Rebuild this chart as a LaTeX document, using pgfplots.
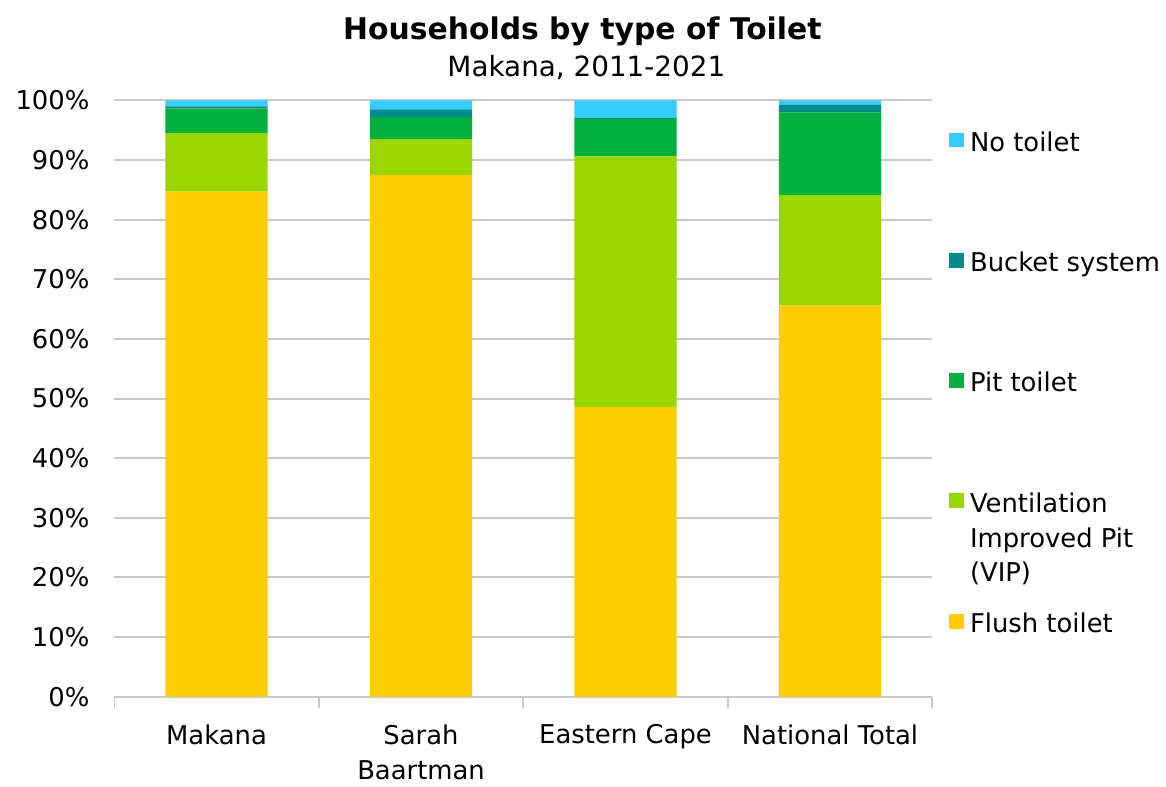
\documentclass[border=0pt]{standalone}
\usepackage{fontspec}
\setmainfont{DejaVu Sans}
\usepackage{pgfplots}
\pgfplotsset{compat=1.18}

\definecolor{flush}{RGB}{255,204,0}
\definecolor{vip}{RGB}{153,214,0}
\definecolor{pit}{RGB}{0,176,60}
\definecolor{bucket}{RGB}{0,140,140}
\definecolor{notoilet}{RGB}{51,204,255}
\definecolor{gridgray}{RGB}{200,200,200}

\pgfplotsset{sqlegend/.style={legend image code/.code={\fill[##1] (0pt,2pt) rectangle (7.8pt,9.5pt);}}}

\begin{document}
\begin{tikzpicture}[x=1pt,y=1pt]
\path (0,0) rectangle (583,391.5);
\node[font=\fontsize{15}{18}\selectfont\bfseries, anchor=base] at (293,371.5) {Households by type of Toilet};
\node[font=\fontsize{14}{17}\selectfont, anchor=base] at (295,353) {Makana, 2011-2021};
\begin{axis}[
  at={(57.5pt,41pt)}, anchor=south west,
  scale only axis,
  width=411.5pt, height=300pt,
  ybar stacked,
  bar width=0.5,
  xmin=-0.5, xmax=3.5,
  ymin=0, ymax=100,
  xtick={-0.5,0.5,1.5,2.5,3.5},
  xticklabels={},
  x tick style={draw=gridgray, line width=0.8pt},
  xtick align=outside,
  major tick length=5.5pt,
  extra x ticks={0,1,2,3},
  extra x tick labels={Makana, Sarah\\Baartman, Eastern Cape, National Total},
  extra x tick style={grid=none, major tick length=0pt,
    tick style={draw=none},
    ticklabel style={align=center, font=\fontsize{13}{17.5}\selectfont, yshift=-10.5pt}},
  ytick={0,10,...,100},
  yticklabel={\pgfmathprintnumber{\tick}\%},
  yticklabel style={font=\fontsize{13}{15}\selectfont, xshift=-9pt},
  /pgf/number format/assume math mode=true,
  y tick style={draw=none},
  ymajorgrids,
  grid style={draw=gridgray, line width=1pt},
  axis lines*=left,
  y axis line style={draw=none},
  x axis line style={draw=gridgray, line width=1pt},
  reverse legend,
  legend style={draw=none, fill=none, at={(rel axis cs:1,1)}, anchor=north west,
    xshift=5pt, yshift=-14pt, row sep=48.5pt, column sep=3pt,
    font=\fontsize{13}{17.5}\selectfont,
    nodes={inner sep=0pt, text height=9.5pt, text depth=2.5pt},
    cells={anchor=base west}},
]
\addplot[fill=flush, draw=none, sqlegend] coordinates {(0,84.7) (1,87.5) (2,48.6) (3,65.6)};
\addplot[fill=vip, draw=none, sqlegend] coordinates {(0,9.8) (1,6.0) (2,42.0) (3,18.5)};
\addplot[fill=pit, draw=none, sqlegend] coordinates {(0,4.1) (1,3.7) (2,6.3) (3,13.9)};
\addplot[fill=bucket, draw=none, sqlegend] coordinates {(0,0.4) (1,1.3) (2,0.2) (3,1.3)};
\addplot[fill=notoilet, draw=none, sqlegend] coordinates {(0,1.0) (1,1.5) (2,2.9) (3,0.7)};
\legend{Flush toilet, {\parbox[t]{3cm}{Ventilation\\Improved Pit\\(VIP)}}, Pit toilet, Bucket system, No toilet}
\end{axis}
\end{tikzpicture}
\end{document}
